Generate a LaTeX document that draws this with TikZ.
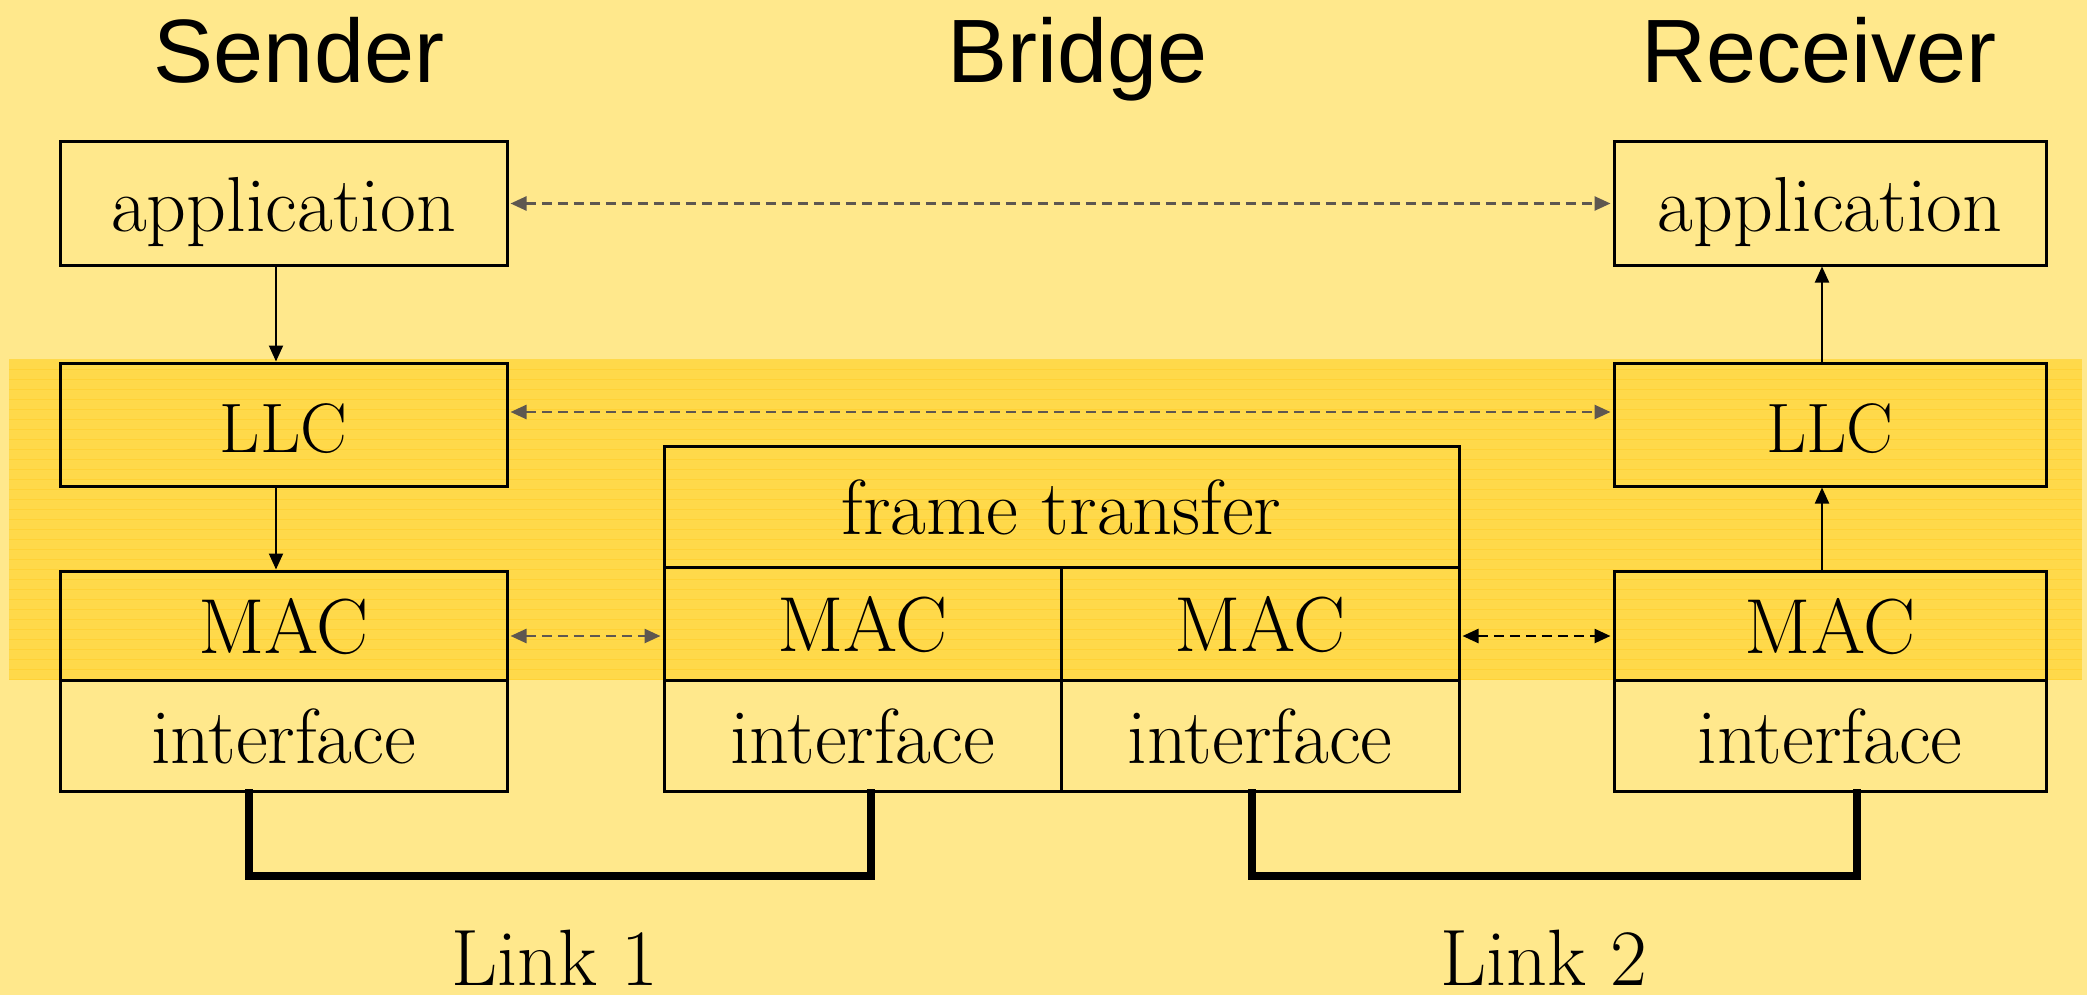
\documentclass[tikz,border=0pt]{standalone}
\usepackage{fontspec}
\newfontfamily\titlefont{Liberation Sans}
\usetikzlibrary{arrows.meta}
\definecolor{bg}{HTML}{FFE88C}
\definecolor{band}{HTML}{FFD94A}
\definecolor{stripe}{HTML}{FFD236}
\definecolor{arrgray}{HTML}{5E5750}
\tikzset{
  box/.style={draw=black, line width=3pt, inner sep=0pt, text height=56pt, text depth=0pt,
    font=\fontsize{78}{88}\selectfont},
  llcbox/.style={box, font=\fontsize{70}{80}\selectfont},
  title/.style={font=\titlefont\fontsize{90}{100}\selectfont, anchor=base, inner sep=0pt},
  linklabel/.style={font=\fontsize{80}{90}\selectfont, anchor=base, inner sep=0pt},
  peer/.style={line width=2.5pt, dash pattern=on 10pt off 6pt, draw=arrgray,
    {Triangle[length=16pt,width=14pt,fill=arrgray]}-{Triangle[length=16pt,width=14pt,fill=arrgray]}},
  peerblack/.style={line width=2.5pt, dash pattern=on 10pt off 6pt, draw=black,
    {Triangle[length=16pt,width=14pt]}-{Triangle[length=16pt,width=14pt]}},
  flow/.style={line width=2pt, -{Triangle[length=16pt,width=14pt]}},
  linkwire/.style={line width=7.5pt, line join=miter, line cap=rect}
}
\begin{document}
\begin{tikzpicture}[x=1pt,y=-1pt]
\useasboundingbox (0,0) rectangle (2087,995);
\fill[bg] (0,0) rectangle (2087,995);
% band
\fill[band] (9,359) rectangle (2082,680);
\foreach \yy in {369,379,...,679} {\draw[stripe, line width=1pt] (9,\yy) -- (2082,\yy);}
% titles
\node[title] (tsender) at (299,83) {Sender};
\node[title] (tbridge) at (1078,83) {Bridge};
\node[title] (treceiver) at (1819,83) {Receiver};
% sender
\node[box, minimum width=447pt, minimum height=123pt] (sapp) at (283.5,203.5) {application};
\node[llcbox, minimum width=447pt, minimum height=123pt] (sllc) at (283.5,424.5) {LLC};
\node[box, minimum width=447pt, minimum height=109pt] (smac) at (283.5,625.5) {MAC};
\node[box, minimum width=447pt, minimum height=111pt] (sif) at (283.5,735.5) {interface};
% receiver
\node[box, minimum width=432pt, minimum height=123pt] (rapp) at (1830,203.5) {application};
\node[llcbox, minimum width=432pt, minimum height=123pt] (rllc) at (1830,424.5) {LLC};
\node[box, minimum width=432pt, minimum height=109pt] (rmac) at (1830,625.5) {MAC};
\node[box, minimum width=432pt, minimum height=111pt] (rif) at (1830,735.5) {interface};
% bridge
\node[box, minimum width=795pt, minimum height=121pt] (bft) at (1061.5,506.5) {frame transfer};
\node[box, minimum width=397pt, minimum height=113pt] (bmacl) at (862.5,623.5) {MAC};
\node[box, minimum width=398pt, minimum height=113pt] (bmacr) at (1260,623.5) {MAC};
\node[box, minimum width=397pt, minimum height=111pt] (bifl) at (862.5,735.5) {interface};
\node[box, minimum width=398pt, minimum height=111pt] (bifr) at (1260,735.5) {interface};
% vertical flows
\draw[flow] (sapp.south -| 276,0) -- (sllc.north -| 276,0);
\draw[flow] (sllc.south -| 276,0) -- (smac.north -| 276,0);
\draw[flow] (rmac.north -| 1822,0) -- (rllc.south -| 1822,0);
\draw[flow] (rllc.north -| 1822,0) -- (rapp.south -| 1822,0);
% peer arrows
\draw[peer] (sapp.east) ++(2,0) -- ([xshift=-2pt]rapp.west);
\draw[peer] (sllc.east |- 0,412) ++(2,0) -- ([xshift=-2pt]rllc.west |- 0,412);
\draw[peer] (smac.east |- 0,636) ++(2,0) -- ([xshift=-2pt]bmacl.west |- 0,636);
\draw[peerblack] (bmacr.east |- 0,636) ++(2,0) -- ([xshift=-2pt]rmac.west |- 0,636);
% links
\coordinate (l1a) at (249,876);
\coordinate (l1b) at (871,876);
\coordinate (l2a) at (1252,876);
\coordinate (l2b) at (1857,876);
\draw[linkwire] (sif.south -| l1a) -- (l1a) -- (l1b) -- (bifl.south -| l1b);
\draw[linkwire] (bifr.south -| l2a) -- (l2a) -- (l2b) -- (rif.south -| l2b);
\node[linklabel] (link1) at (555,985) {Link 1};
\node[linklabel] (link2) at (1544,985) {Link 2};
\end{tikzpicture}
\end{document}
